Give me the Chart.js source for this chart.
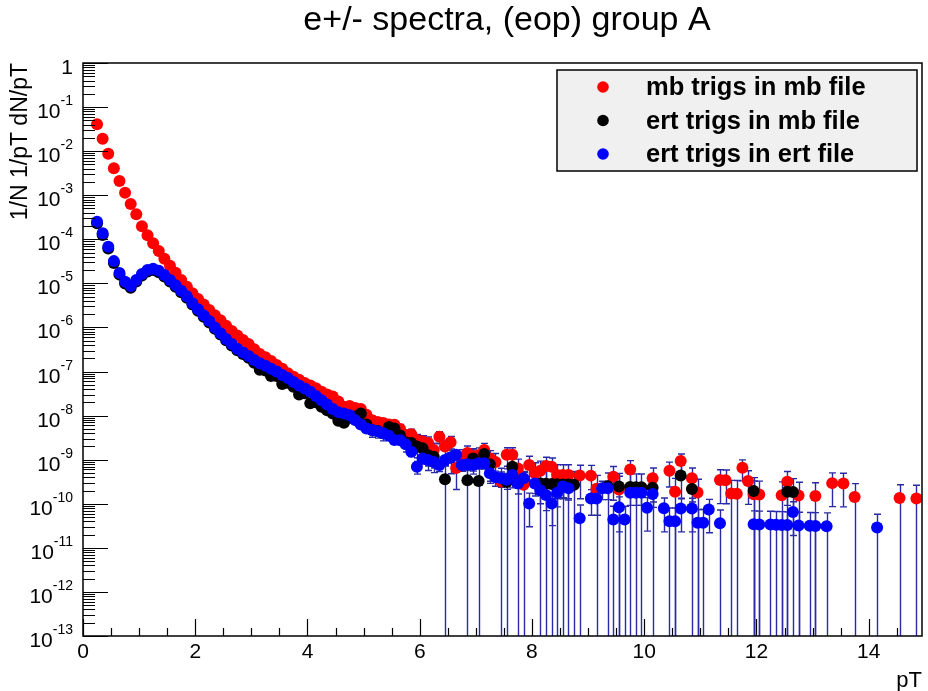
<!DOCTYPE html>
<html>
<head>
<meta charset="utf-8">
<script src="https://cdn.jsdelivr.net/npm/chart.js@4.4.0/dist/chart.umd.min.js"></script>
<style>
  html, body { margin: 0; padding: 0; background: #fff; }
  #wrap { width: 928px; height: 691px; }
</style>
</head>
<body>
<div id="wrap"><canvas id="c" width="928" height="691"></canvas></div>
<script>
// ── bin centres (pT, 0.1 wide bins) ───────────────────
const pT = [
  0.25, 0.35, 0.45, 0.55, 0.65, 0.75, 0.85, 0.95, 1.05, 1.15,
  1.25, 1.35, 1.45, 1.55, 1.65, 1.75, 1.85, 1.95, 2.05, 2.15,
  2.25, 2.35, 2.45, 2.55, 2.65, 2.75, 2.85, 2.95, 3.05, 3.15,
  3.25, 3.35, 3.45, 3.55, 3.65, 3.75, 3.85, 3.95, 4.05, 4.15,
  4.25, 4.35, 4.45, 4.55, 4.65, 4.75, 4.85, 4.95, 5.05, 5.15,
  5.25, 5.35, 5.45, 5.55, 5.65, 5.75, 5.85, 5.95, 6.05, 6.15,
  6.25, 6.35, 6.45, 6.55, 6.65, 6.75, 6.85, 6.95, 7.05, 7.15,
  7.25, 7.35, 7.45, 7.55, 7.65, 7.75, 7.85, 7.95, 8.05, 8.15,
  8.25, 8.35, 8.45, 8.55, 8.65, 8.75, 8.85, 8.95, 9.05, 9.15,
  9.25, 9.35, 9.45, 9.55, 9.65, 9.75, 9.85, 9.95, 10.05, 10.15,
  10.25, 10.35, 10.45, 10.55, 10.65, 10.75, 10.85, 10.95, 11.05, 11.15,
  11.25, 11.35, 11.45, 11.55, 11.65, 11.75, 11.85, 11.95, 12.05, 12.15,
  12.25, 12.35, 12.45, 12.55, 12.65, 12.75, 12.85, 12.95, 13.05, 13.15,
  13.25, 13.35, 13.45, 13.55, 13.65, 13.75, 13.85, 13.95, 14.05, 14.15,
  14.25, 14.35, 14.45, 14.55, 14.65, 14.75, 14.85
];

// ── mb trigs in mb file (red) ─────────────────────────
const mbInMb = [
  4.1e-2, 1.92e-2, 8.7e-3, 4.1e-3, 2.1e-3, 1.14e-3, 6.3e-4, 3.7e-4, 1.97e-4, 1.23e-4,
  8.1e-5, 5.4e-5, 3.6e-5, 2.5e-5, 1.75e-5, 1.19e-5, 8.4e-6, 6.0e-6, 4.4e-6, 3.3e-6,
  2.5e-6, 1.9e-6, 1.45e-6, 1.1e-6, 8.3e-7, 6.6e-7, 5.2e-7, 4.2e-7, 3.2e-7, 2.5e-7,
  2.1e-7, 1.74e-7, 1.41e-7, 1.15e-7, 9.1e-8, 7.6e-8, 6.5e-8, 5.5e-8, 4.8e-8, 4.2e-8,
  3.5e-8, 3.0e-8, 2.7e-8, 2.1e-8, 1.58e-8, 1.66e-8, 1.48e-8, 1.41e-8, 1.05e-8, 7.9e-9,
  7.2e-9, 6.8e-9, 6.3e-9, 6.2e-9, 5.0e-9, 3.6e-9, 3.8e-9, 2.8e-9, 2.6e-9, 2.4e-9,
  1.66e-9, 3.3e-9, 2.0e-9, 2.5e-9, 6.5e-10, 1.12e-9, 1.41e-9, 1.2e-9, 1.26e-9, 1.66e-9,
  1.07e-9, 8.9e-10, 3.2e-10, 1.29e-9, 1.29e-9, 6.3e-10, 2.7e-10, 7.6e-10, 5.0e-10, 5.6e-10,
  7.2e-10, 6.9e-10, 4.5e-10, 4.5e-10, 4.5e-10, null, 4.4e-10, null, 4.35e-10, 2.2e-10,
  null, null, 4.1e-10, 2.1e-10, null, 6.0e-10, null, null, null, 3.8e-10,
  null, null, 5.6e-10, 1.88e-10, 9.3e-10, null, 3.8e-10, 1.8e-10, null, null,
  null, 3.45e-10, 3.42e-10, 1.7e-10, 1.68e-10, 6.6e-10, 3.3e-10, 1.64e-10, 1.63e-10, null,
  null, null, 1.57e-10, 3.15e-10, null, 1.54e-10, null, null, 1.5e-10, null,
  null, 2.94e-10, null, 2.89e-10, null, 1.43e-10, null, null, null, null,
  null, null, null, 1.35e-10, null, null, 1.32e-10
];
const mbInMbErr = [
  null, null, null, null, null, null, null, null, null, null,
  null, null, null, null, null, null, null, null, null, null,
  null, null, null, null, null, null, null, null, null, null,
  null, null, null, null, null, null, null, null, null, null,
  null, null, null, null, null, null, null, null, 2.0e-9, 1.74e-9,
  1.64e-9, 1.58e-9, 1.5e-9, 1.48e-9, 1.32e-9, 1.1e-9, 1.13e-9, 9.6e-10, 9.2e-10, 8.8e-10,
  7.2e-10, 1.0e-9, 7.8e-10, 8.6e-10, 4.4e-10, 5.7e-10, 6.4e-10, 5.8e-10, 5.9e-10, 6.8e-10,
  5.4e-10, 4.9e-10, 3.2e-10, 5.8e-10, 5.8e-10, 4.0e-10, 2.7e-10, 4.4e-10, 3.5e-10, 3.7e-10,
  4.2e-10, 4.0e-10, 3.2e-10, 3.2e-10, 3.2e-10, null, 3.1e-10, null, 3.1e-10, 2.2e-10,
  null, null, 2.9e-10, 2.1e-10, null, 3.5e-10, null, null, null, 2.7e-10,
  null, null, 3.2e-10, 1.88e-10, 4.2e-10, null, 2.7e-10, 1.8e-10, null, null,
  null, 2.44e-10, 2.42e-10, 1.7e-10, 1.68e-10, 3.3e-10, 2.33e-10, 1.64e-10, 1.63e-10, null,
  null, null, 1.57e-10, 2.23e-10, null, 1.54e-10, null, null, 1.5e-10, null,
  null, 2.08e-10, null, 2.04e-10, null, 1.43e-10, null, null, null, null,
  null, null, null, 1.35e-10, null, null, 1.32e-10
];

// ── ert trigs in mb file (black) ──────────────────────
const ertInMb = [
  2.3e-4, 1.25e-4, 6.2e-5, 2.9e-5, 1.58e-5, 1.0e-5, 8.0e-6, 1.1e-5, 1.5e-5, 1.85e-5,
  2.0e-5, 1.8e-5, 1.43e-5, 1.1e-5, 8.4e-6, 6.3e-6, 4.7e-6, 3.3e-6, 2.4e-6, 1.75e-6,
  1.3e-6, 9.3e-7, 6.9e-7, 5.1e-7, 3.9e-7, 3.05e-7, 2.5e-7, 2.05e-7, 1.58e-7, 1.1e-7,
  1.05e-7, 7.9e-8, 7.9e-8, 5.2e-8, 5.6e-8, 4.5e-8, 3.0e-8, 3.2e-8, 1.9e-8, 2.0e-8,
  1.58e-8, 1.32e-8, 1.12e-8, 7.6e-9, 6.9e-9, 8.9e-9, 9.5e-9, 1.12e-8, 6.3e-9, 4.7e-9,
  4.5e-9, 4.0e-9, 5.5e-9, 5.1e-9, 3.55e-9, 2.5e-9, 2.4e-9, 2.0e-9, 1.82e-9, 1.26e-9,
  1.17e-9, null, 3.6e-10, 1.12e-9, null, null, 3.4e-10, 1.07e-9, 3.3e-10, 1.35e-9,
  7.9e-10, null, null, 3.1e-10, 6.9e-10, 3.0e-10, null, null, null, 2.9e-10,
  2.85e-10, 2.8e-10, 2.78e-10, 2.75e-10, 2.72e-10, 2.7e-10, null, null, null, null,
  null, 2.5e-10, null, 2.45e-10, null, 2.4e-10, 2.38e-10, 2.36e-10, null, 2.3e-10,
  null, null, null, null, 4.4e-10, null, 2.16e-10, null, null, null,
  null, null, null, null, null, null, null, 1.96e-10, null, null,
  null, null, null, 1.87e-10, 1.86e-10, null, null, null, null, null,
  null, null, null, null, null, null, null, null, null, null,
  null, null, null, null, null, null, null
];
const ertInMbErr = [
  null, null, null, null, null, null, null, null, null, null,
  null, null, null, null, null, null, null, null, null, null,
  null, null, null, null, null, null, null, null, null, null,
  null, null, null, null, null, null, null, null, null, null,
  null, null, null, null, null, null, null, null, 1.7e-9, 1.46e-9,
  1.42e-9, 1.33e-9, 1.54e-9, 1.47e-9, 1.22e-9, 1.0e-9, 9.8e-10, 8.9e-10, 8.4e-10, 6.9e-10,
  6.6e-10, null, 3.6e-10, 6.4e-10, null, null, 3.4e-10, 6.0e-10, 3.3e-10, 6.7e-10,
  5.0e-10, null, null, 3.1e-10, 4.6e-10, 3.0e-10, null, null, null, 2.9e-10,
  2.85e-10, 2.8e-10, 2.78e-10, 2.75e-10, 2.72e-10, 2.7e-10, null, null, null, null,
  null, 2.5e-10, null, 2.45e-10, null, 2.4e-10, 2.38e-10, 2.36e-10, null, 2.3e-10,
  null, null, null, null, 3.1e-10, null, 2.16e-10, null, null, null,
  null, null, null, null, null, null, null, 1.96e-10, null, null,
  null, null, null, 1.87e-10, 1.86e-10, null, null, null, null, null,
  null, null, null, null, null, null, null, null, null, null,
  null, null, null, null, null, null, null
];

// ── ert trigs in ert file (blue) ──────────────────────
const ertInErt = [
  2.5e-4, 1.37e-4, 6.8e-5, 3.2e-5, 1.72e-5, 1.09e-5, 8.7e-6, 1.19e-5, 1.63e-5, 2.0e-5,
  2.15e-5, 1.94e-5, 1.55e-5, 1.19e-5, 9.1e-6, 6.8e-6, 5.1e-6, 3.55e-6, 2.6e-6, 1.9e-6,
  1.41e-6, 1.0e-6, 7.4e-7, 5.5e-7, 4.2e-7, 3.3e-7, 2.7e-7, 2.24e-7, 1.82e-7, 1.55e-7,
  1.35e-7, 1.15e-7, 1.0e-7, 8.3e-8, 7.1e-8, 5.8e-8, 4.8e-8, 4.1e-8, 3.5e-8, 2.8e-8,
  2.24e-8, 1.78e-8, 1.41e-8, 1.2e-8, 1.12e-8, 1.02e-8, 7.9e-9, 6.3e-9, 5.1e-9, 4.7e-9,
  4.4e-9, 4.0e-9, 3.5e-9, 2.8e-9, 2.75e-9, 2.24e-9, 1.51e-9, 6.9e-10, 1.07e-9, 9.8e-10,
  8.9e-10, 7.6e-10, 9.8e-10, 1.12e-9, 1.29e-9, 7.6e-10, 7.9e-10, 7.6e-10, 8.3e-10, 8.3e-10,
  4.9e-10, 4.0e-10, 3.8e-10, 3.5e-10, 4.5e-10, 2.9e-10, 3.8e-10, 1.02e-10, 2.9e-10, 2.0e-10,
  1.58e-10, 1.02e-10, 1.78e-10, 2.45e-10, 2.24e-10, null, 4.7e-11, null, 1.32e-10, 1.32e-10,
  2.24e-10, 2.24e-10, 4.4e-11, 8.3e-11, 4.4e-11, 1.78e-10, 1.78e-10, 1.78e-10, 8.1e-11, 1.66e-10,
  null, 7.9e-11, 4.0e-11, 4.0e-11, 7.8e-11, null, 7.8e-11, 3.7e-11, 3.7e-11, 7.4e-11,
  null, 3.6e-11, null, null, null, null, null, 3.45e-11, 3.4e-11, null,
  3.37e-11, 3.34e-11, 3.31e-11, 3.28e-11, 6.5e-11, 3.22e-11, null, 3.17e-11, 3.14e-11, null,
  3.1e-11, null, null, null, null, null, null, null, null, 2.9e-11,
  null, null, null, null, null, null, null
];
const ertInErtErr = [
  null, null, null, null, null, null, null, null, null, null,
  null, null, null, null, null, null, null, null, null, null,
  null, null, null, null, null, null, null, null, null, null,
  null, null, null, null, null, null, null, null, null, null,
  null, null, null, null, null, null, null, null, 6.4e-10, 6.1e-10,
  5.9e-10, 5.5e-10, 5.1e-10, 4.5e-10, 4.5e-10, 4.0e-10, 3.3e-10, 2.2e-10, 2.7e-10, 2.6e-10,
  2.4e-10, 2.2e-10, 2.5e-10, 2.6e-10, 2.8e-10, 2.15e-10, 2.2e-10, 2.1e-10, 2.2e-10, 2.2e-10,
  1.66e-10, 1.5e-10, 1.45e-10, 1.38e-10, 1.55e-10, 1.24e-10, 1.4e-10, 7.2e-11, 1.2e-10, 1.0e-10,
  8.8e-11, 7.0e-11, 9.3e-11, 1.08e-10, 1.03e-10, null, 4.7e-11, null, 7.7e-11, 7.7e-11,
  1.0e-10, 1.0e-10, 4.4e-11, 6.0e-11, 4.4e-11, 8.6e-11, 8.6e-11, 8.6e-11, 5.7e-11, 8.3e-11,
  null, 5.6e-11, 4.0e-11, 4.0e-11, 5.5e-11, null, 5.5e-11, 3.7e-11, 3.7e-11, 5.2e-11,
  null, 3.6e-11, null, null, null, null, null, 3.45e-11, 3.4e-11, null,
  3.37e-11, 3.34e-11, 3.31e-11, 3.28e-11, 4.6e-11, 3.22e-11, null, 3.17e-11, 3.14e-11, null,
  3.1e-11, null, null, null, null, null, null, null, null, 2.9e-11,
  null, null, null, null, null, null, null
];

// ── axes / labels ─────────────────────────────────────
const yDecades     = [0, -1, -2, -3, -4, -5, -6, -7, -8, -9, -10, -11, -12, -13];
const xTickLabels  = [0, 2, 4, 6, 8, 10, 12, 14];
const legendLabels = ['mb trigs in mb file', 'ert trigs in mb file', 'ert trigs in ert file'];
const TITLE   = 'e+/- spectra, (eop) group A';
const Y_TITLE = '1/N 1/pT dN/pT';
const X_TITLE = 'pT';

const COLORS = {
  red:   '#ff0000',
  black: '#000000',
  blue:  '#0000ff',
  err:   '#2a2aa8',
  box:   '#f0f0f0',
};
const FONT = '"Liberation Sans", Arial, Helvetica, sans-serif';

const SERIES = [
  { vals: mbInMb,   errs: mbInMbErr,   color: COLORS.red },
  { vals: ertInMb,  errs: ertInMbErr,  color: COLORS.black },
  { vals: ertInErt, errs: ertInErtErr, color: COLORS.blue },
];

const toPoints = vals => vals
  .map((v, i) => (v == null ? null : { x: pT[i], y: v }))
  .filter(p => p);

// error bars go under the markers, drawn to the frame bottom when v-err <= 0
const errorBars = {
  id: 'errorBars',
  beforeDatasetsDraw(chart) {
    const { ctx, chartArea: a, scales: { x, y } } = chart;
    ctx.save();
    ctx.beginPath();
    ctx.rect(a.left, a.top, a.right - a.left, a.bottom - a.top);
    ctx.clip();
    ctx.strokeStyle = COLORS.err;
    ctx.lineWidth = 1.4;
    SERIES.forEach(s => {
      s.vals.forEach((v, i) => {
        const e = s.errs[i];
        if (v == null || e == null) return;
        const px  = Math.round(x.getPixelForValue(pT[i])) + 0.5;
        const top = y.getPixelForValue(v + e);
        const lo  = v - e;
        const bot = lo > 0 ? y.getPixelForValue(lo) : a.bottom + 2;
        ctx.beginPath();
        ctx.moveTo(px, top); ctx.lineTo(px, bot);
        ctx.moveTo(px - 3.5, top); ctx.lineTo(px + 3.5, top);
        if (lo > 0) { ctx.moveTo(px - 3.5, bot); ctx.lineTo(px + 3.5, bot); }
        ctx.stroke();
      });
    });
    ctx.restore();
  }
};

// ROOT-like frame, ticks, labels, title and legend
const rootFrame = {
  id: 'rootFrame',
  afterDraw(chart) {
    const { ctx, chartArea: a, scales: { x, y } } = chart;
    ctx.save();
    ctx.strokeStyle = '#000';
    ctx.fillStyle = '#000';
    ctx.lineWidth = 1.5;
    ctx.strokeRect(a.left, a.top, a.right - a.left, a.bottom - a.top);

    // y ticks
    ctx.lineWidth = 1.2;
    ctx.beginPath();
    yDecades.forEach(d => {
      const yy = Math.round(y.getPixelForValue(Math.pow(10, d))) + 0.5;
      ctx.moveTo(a.left, yy); ctx.lineTo(a.left + 25, yy);
      if (d > -13) {
        for (let m = 2; m <= 9; m++) {
          const ym = Math.round(y.getPixelForValue(m * Math.pow(10, d - 1))) + 0.5;
          ctx.moveTo(a.left, ym); ctx.lineTo(a.left + 12, ym);
        }
      }
    });
    // x ticks
    for (let v = 0; v <= x.max + 1e-9; v += 0.5) {
      const xx = Math.round(x.getPixelForValue(v)) + 0.5;
      const major = Math.abs(v / 2 - Math.round(v / 2)) < 1e-9;
      ctx.moveTo(xx, a.bottom); ctx.lineTo(xx, a.bottom - (major ? 17 : 8));
    }
    ctx.stroke();

    // y labels
    ctx.textBaseline = 'alphabetic';
    yDecades.forEach(d => {
      const yy = y.getPixelForValue(Math.pow(10, d));
      ctx.textAlign = 'right';
      if (d === 0) {
        ctx.font = '21px ' + FONT;
        ctx.fillText('1', 73, yy + 11);
        return;
      }
      ctx.font = '14px ' + FONT;
      const sup = String(d);
      const sw = ctx.measureText(sup).width;
      ctx.fillText(sup, 73, yy - 2);
      ctx.font = '21px ' + FONT;
      ctx.fillText('10', 73 - sw, yy + 11);
    });

    // x labels
    ctx.font = '21px ' + FONT;
    ctx.textAlign = 'center';
    xTickLabels.forEach(v => {
      ctx.fillText(String(v), x.getPixelForValue(v), a.bottom + 22);
    });

    // axis titles
    ctx.textAlign = 'right';
    ctx.font = '22px ' + FONT;
    ctx.fillText(X_TITLE, a.right, 687);
    ctx.save();
    ctx.font = '23px ' + FONT;
    ctx.translate(27, a.top);
    ctx.rotate(-Math.PI / 2);
    ctx.fillText(Y_TITLE, 0, 0);
    ctx.restore();

    // title
    ctx.textAlign = 'center';
    ctx.font = '34px ' + FONT;
    ctx.fillText(TITLE, 507, 30);

    // legend
    const bx = 557, by = 70, bw = 360, bh = 101;
    ctx.fillStyle = COLORS.box;
    ctx.fillRect(bx, by, bw, bh);
    ctx.lineWidth = 1.5;
    ctx.strokeRect(bx, by, bw, bh);
    ctx.font = 'bold 25.5px ' + FONT;
    ctx.textAlign = 'left';
    ctx.textBaseline = 'middle';
    legendLabels.forEach((lab, i) => {
      const ly = 87 + i * 33.5;
      ctx.fillStyle = SERIES[i].color;
      ctx.beginPath();
      ctx.arc(603, ly, 5.8, 0, Math.PI * 2);
      ctx.fill();
      ctx.fillStyle = '#000';
      ctx.fillText(lab, 646, ly + 1);
    });
    ctx.restore();
  }
};

new Chart(document.getElementById('c'), {
  type: 'scatter',
  data: {
    datasets: SERIES.map((s, i) => ({
      label: legendLabels[i],
      data: toPoints(s.vals),
      backgroundColor: s.color,
      borderWidth: 0,
      pointRadius: 6,
      pointHoverRadius: 6,
      order: 3 - i,
    })),
  },
  options: {
    responsive: false,
    animation: false,
    devicePixelRatio: 1,
    layout: { padding: { left: 83, top: 63, right: 3, bottom: 55 } },
    plugins: { legend: { display: false }, tooltip: { enabled: false } },
    scales: {
      x: { type: 'linear', min: 0, max: 14.95, display: false },
      y: { type: 'logarithmic', min: 1e-13, max: 1, display: false },
    },
  },
  plugins: [errorBars, rootFrame],
});
</script>
</body>
</html>
